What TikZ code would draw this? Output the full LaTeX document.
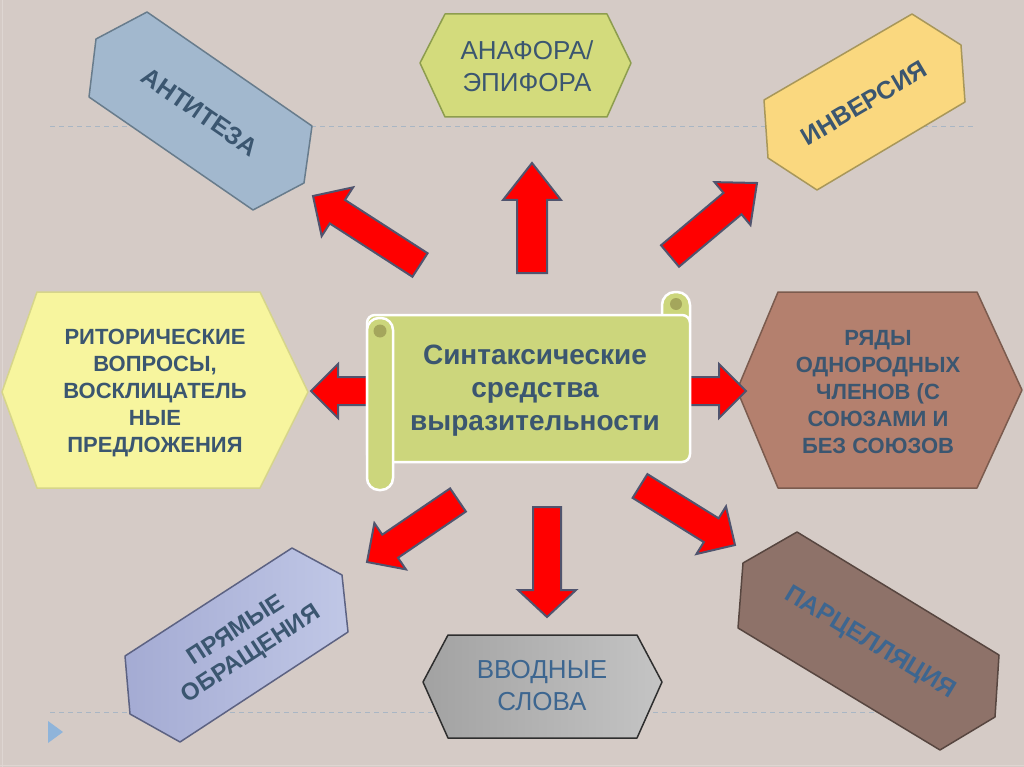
\documentclass[tikz,border=0pt]{standalone}
\usepackage{fontspec}
\setmainfont{Liberation Sans}
\usetikzlibrary{calc}
\definecolor{bg}{HTML}{D5CBC6}
\definecolor{dashc}{HTML}{A9B6C4}
\definecolor{txt}{HTML}{3B5670}
\definecolor{txtb}{HTML}{3D6690}
\definecolor{arrfill}{HTML}{FF0000}
\definecolor{arrline}{HTML}{50546E}
\definecolor{antF}{HTML}{A2B8CE}\definecolor{antD}{HTML}{687C8C}
\definecolor{anaF}{HTML}{D3DB7C}\definecolor{anaD}{HTML}{8D9D4E}
\definecolor{invF}{HTML}{FAD87F}\definecolor{invD}{HTML}{A8975A}
\definecolor{ritF}{HTML}{F7F59E}\definecolor{ritD}{HTML}{D6D58A}
\definecolor{ryaF}{HTML}{B4806E}\definecolor{ryaD}{HTML}{7B5B4E}
\definecolor{parF}{HTML}{8E7269}\definecolor{parD}{HTML}{574640}
\definecolor{prL}{HTML}{A4ABD3}\definecolor{prR}{HTML}{C0C7E6}\definecolor{prD}{HTML}{5C6282}
\definecolor{vvL}{HTML}{A2A2A2}\definecolor{vvR}{HTML}{C4C4C4}\definecolor{vvD}{HTML}{2E2E2E}
\definecolor{scrF}{HTML}{CCD67C}\definecolor{scrDot}{HTML}{A4A65C}
\definecolor{tri}{HTML}{8FB4DA}
\definecolor{edgec}{HTML}{DED6D2}
\newcommand{\blockarrow}[5]{%
  \coordinate (#1h) at ($(#2)!#5!(#1)$);
  \draw[redarrow] ($(#1)!#3!90:(#2)$) -- ($(#1h)!#3!90:(#2)$) -- ($(#1h)!#4!90:(#2)$) -- (#2)
    -- ($(#1h)!#4!-90:(#2)$) -- ($(#1h)!#3!-90:(#2)$) -- ($(#1)!#3!-90:(#2)$) -- cycle;}
\begin{document}
\begin{tikzpicture}[x=1pt,y=-1pt,
  dashline/.style={draw=dashc, line width=1pt, dash pattern=on 5pt off 4pt},
  hexbox/.style={line width=1.5pt, line join=round},
  redarrow/.style={fill=arrfill, draw=arrline, line width=2pt, line join=miter},
  scroll/.style={fill=scrF, draw=white, line width=2.5pt},
  lblb/.style={text=txt, font=\bfseries\fontsize{22}{27}\selectfont, align=center, inner sep=0pt},
  lblr/.style={text=txt, font=\fontsize{26}{32}\selectfont, align=center, inner sep=0pt},
  lblbig/.style={text=txt, font=\bfseries\fontsize{25}{29}\selectfont, align=center, inner sep=0pt}]
\useasboundingbox (0,0) rectangle (1024,767);
\fill[bg] (0,0) rectangle (1024,767);
\draw[edgec, line width=1pt] (2,0) -- (2,767);
\draw[edgec, line width=1pt] (0,765) -- (1024,765);
% dashed guide lines
\draw[dashline] (50,127) -- (975,127);
\draw[dashline] (50,712) -- (975,712);
\fill[tri] (48,721) -- (63,732) -- (48,743) -- cycle;
% hexagons
\draw[hexbox, fill=antF, draw=antD] (147,12) -- (96,39) -- (89,97) -- (253,210) -- (304,183) -- (312,126) -- cycle;
\draw[hexbox, fill=anaF, draw=anaD] (420,63) -- (445,14) -- (607,14) -- (631,63) -- (607,117) -- (445,117) -- cycle;
\draw[hexbox, fill=invF, draw=invD] (912,14) -- (961,45) -- (965,102) -- (817,190) -- (768,158) -- (764,100) -- cycle;
\draw[hexbox, fill=ritF, draw=ritD] (2,392) -- (37,292) -- (260,292) -- (308,392) -- (260,488) -- (37,488) -- cycle;
\draw[hexbox, fill=ryaF, draw=ryaD] (737,390) -- (778,292) -- (977,292) -- (1022,390) -- (977,488) -- (778,488) -- cycle;
\draw[hexbox, draw=prD, left color=prL, right color=prR] (292,548) -- (342,575) -- (348,632) -- (180,742) -- (130,714) -- (125,656) -- cycle;
\draw[hexbox, draw=vvD, left color=vvL, right color=vvR] (423,682) -- (448,635) -- (637,635) -- (662,682) -- (637,738) -- (448,738) -- cycle;
\draw[hexbox, fill=parF, draw=parD] (797,532) -- (743,563) -- (738,628) -- (940,750) -- (995,717) -- (999,655) -- cycle;
% arrows
\coordinate (a1) at (420,265); \coordinate (b1) at (313,196);
\coordinate (a2) at (532,273); \coordinate (b2) at (532,163);
\coordinate (a3) at (670,256); \coordinate (b3) at (757,183);
\coordinate (a4) at (369,391); \coordinate (b4) at (311,391);
\coordinate (a5) at (687,391); \coordinate (b5) at (746,391);
\coordinate (a6) at (458,500); \coordinate (b6) at (367,562);
\coordinate (a7) at (547,507); \coordinate (b7) at (547,617);
\coordinate (a8) at (640,486); \coordinate (b8) at (735,545);
\blockarrow{a1}{b1}{14pt}{29pt}{29pt}
\blockarrow{a2}{b2}{15pt}{29pt}{37pt}
\blockarrow{a3}{b3}{14pt}{28pt}{32pt}
\blockarrow{a4}{b4}{14pt}{27pt}{27pt}
\blockarrow{a5}{b5}{14pt}{27pt}{27pt}
\blockarrow{a6}{b6}{14pt}{28pt}{28pt}
\blockarrow{a7}{b7}{14pt}{29pt}{27pt}
\blockarrow{a8}{b8}{14pt}{28pt}{28pt}
% scroll
\draw[scroll, rounded corners=13pt] (662,335) rectangle (690,292);
\draw[scroll, rounded corners=8pt] (367,315) rectangle (690,462);
\draw[scroll, rounded corners=12pt] (367,318) rectangle (393,490);
\fill[scrDot] (380,331) circle (6.5);
\fill[scrDot] (676,304) circle (6);
% labels
\node[lblbig, rotate=-34.5] (antiteza) at (200,112) {АНТИТЕЗА};
\node[lblr] (anafora) at (527,66) {АНАФОРА/\\ЭПИФОРА};
\node[lblbig, rotate=30.5] (inversia) at (864,103) {ИНВЕРСИЯ};
\node[lblb] (ritor) at (155,393) {РИТОРИЧЕСКИЕ\\ВОПРОСЫ,\\ВОСКЛИЦАТЕЛЬ\\НЫЕ\\ПРЕДЛОЖЕНИЯ};
\node[lblb] (ryady) at (878,392) {РЯДЫ\\ОДНОРОДНЫХ\\ЧЛЕНОВ (С\\СОЮЗАМИ И\\БЕЗ СОЮЗОВ};
\node[text=txt, font=\bfseries\fontsize{24}{28}\selectfont, align=center, inner sep=0pt, rotate=33] (pryamye) at (244,643) {ПРЯМЫЕ\\ОБРАЩЕНИЯ};
\node[lblr, text=txtb] (vvodnye) at (542,686) {ВВОДНЫЕ\\СЛОВА};
\node[lblbig, text=txtb, rotate=-31] (parcel) at (870,643) {ПАРЦЕЛЛЯЦИЯ};
\node[text=txt, font=\bfseries\fontsize{28}{33}\selectfont, align=center, inner sep=0pt] (center) at (535,391) {Синтаксические\\средства\\выразительности};
\end{tikzpicture}
\end{document}
